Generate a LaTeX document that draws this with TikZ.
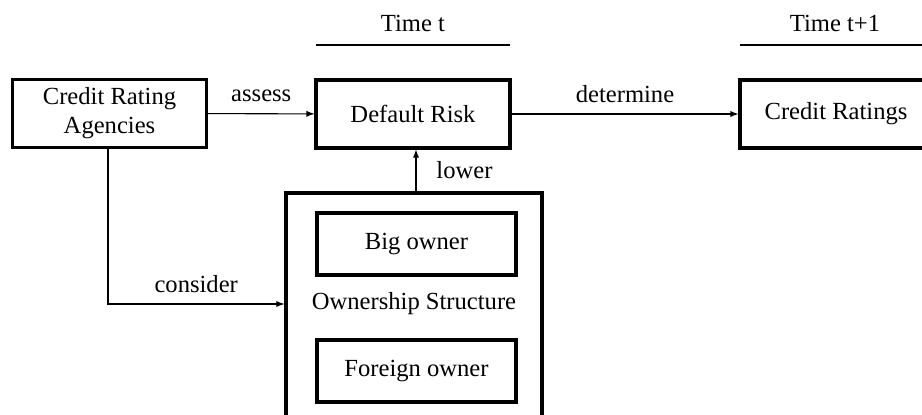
\documentclass[tikz,border=0pt]{standalone}
\usepackage{fontspec}
\setmainfont{Liberation Serif}
\tikzset{
  box/.style={draw, line width=1.8pt, align=center, inner sep=0pt},
  wbox/.style={box, minimum width=3.88cm, minimum height=1.36cm},
  obox/.style={box, minimum width=3.98cm, minimum height=1.24cm},
  link/.style={->, line width=0.6pt}
}
\begin{document}
\begin{tikzpicture}[x=0.02cm, y=-0.02cm, >=latex, font=\fontsize{14}{16.5}\selectfont, line join=miter]
			\useasboundingbox (0,0) rectangle (922,415);
			\clip (0,0) rectangle (922,415);
			% Boxes
			\node[wbox] (cra) at (109.5,113.5) {Credit Rating\\Agencies};
			\node[wbox] (risk) at (413,114) {Default Risk};
			\node[box, minimum width=3.8cm, minimum height=1.36cm] (rating) at (835,114) {};
			\node at (836,114) {Credit Ratings};
			\node[box, minimum width=5.12cm, minimum height=4.74cm] (owner) at (414,311.5) {};
			\node[obox] (big) at (416.5,244) {Big owner};
			\node (ostruct) at (414,304) {Ownership Structure};
			\node[obox] (foreign) at (416.5,371) {Foreign owner};
			% Time
			\node (tt) at (413,23) {Time t};
			\node (tt1) at (835,23) {Time t+1};
			\draw[line width=1pt] (316,45) -- (510,45);
			\draw[line width=1pt] (740,45) -- (930,45);
			% Arrows
			\draw[link] (cra) -- node[above=3pt]{assess} (risk);
			\draw[link] (risk) -- node[above=3pt]{determine} (rating.west);
			\draw[link] (owner.north -| 416,0) -- node[right=8pt]{lower} (risk.south -| 416,0);
			\draw[link] (cra.south -| 108,0) |- node[pos=0.75,above=3pt]{consider} (owner.west |- ostruct);
	\end{tikzpicture}
\end{document}
